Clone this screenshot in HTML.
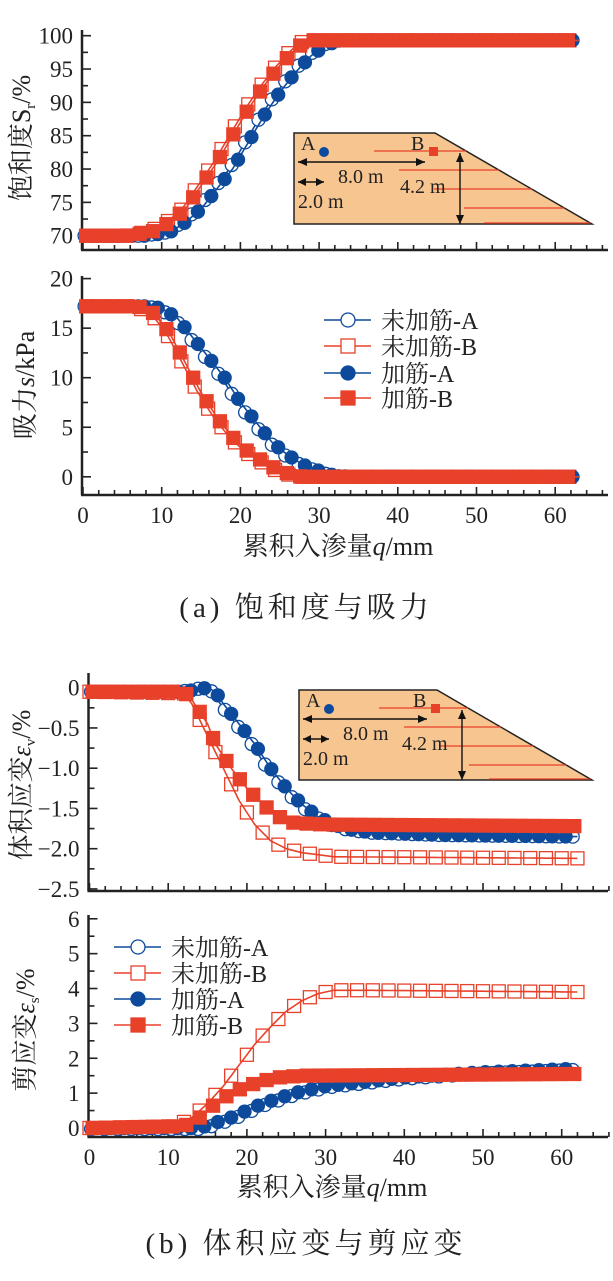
<!DOCTYPE html>
<html><head><meta charset="utf-8">
<style>
html,body{margin:0;padding:0;background:#fff;}
svg{display:block}
text{font-family:"Liberation Serif","Noto Serif CJK SC",serif;}
.cj{font-family:"Liberation Serif","Noto Serif CJK SC","Noto Sans CJK SC",serif;}
</style></head>
<body>
<svg id="s" width="613" height="1281" viewBox="0 0 613 1281" xmlns="http://www.w3.org/2000/svg">
<text x="306" y="617" text-anchor="middle" font-size="29" letter-spacing="4" class="cj" fill="#222">(a) 饱和度与吸力</text>
<text x="306" y="1253" text-anchor="middle" font-size="29" letter-spacing="4" class="cj" fill="#222">(b) 体积应变与剪应变</text>
</svg>
<script>
const S=document.getElementById('s');const NS='http://www.w3.org/2000/svg';
function el(t,a,txt){const e=document.createElementNS(NS,t);for(const k in a)e.setAttribute(k,a[k]);if(txt!==undefined)e.textContent=txt;S.appendChild(e);return e;}
const BL='#0d4a9c',RD='#e8412a';
function interp(pts,q){if(q<=pts[0][0])return pts[0][1];for(let i=1;i<pts.length;i++){if(q<=pts[i][0]){const a=pts[i-1],b=pts[i];return a[1]+(b[1]-a[1])*(q-a[0])/(b[0]-a[0]);}}return pts[pts.length-1][1];}
function panel(P){
 const X=q=>P.x0+q*P.kx, Y=v=>P.y0+(v-P.v0)*P.ky;
 el('line',{x1:P.x0-1,y1:P.ytop,x2:P.x0-1,y2:P.yax,stroke:'#222','stroke-width':2.5});
 el('line',{x1:P.x0-2,y1:P.yax,x2:608,y2:P.yax,stroke:'#222','stroke-width':2.5});
 for(let q=0;q<=66;q+=2){const M=q%10==0;el('line',{x1:X(q),y1:P.yax,x2:X(q),y2:P.yax-(M?8:5),stroke:'#222','stroke-width':1.6});
  if(M&&P.xl)el('text',{x:X(q),y:P.yax+28,'text-anchor':'middle','font-size':23,fill:'#222'},q);}
 const n=Math.round((P.vmax-P.vmin)/P.minor);
 for(let i=0;i<=n;i++){const v=P.vmin+i*P.minor;const M=Math.abs(Math.round(v/P.major)*P.major-v)<1e-6;const y=Y(v);if(y<P.ytop-1||y>P.yax)continue;
  el('line',{x1:P.x0,y1:y,x2:P.x0+(M?8:5),y2:y,stroke:'#222','stroke-width':1.6});
  if(M)el('text',{x:P.x0-10,y:y+8,'text-anchor':'end','font-size':23,fill:'#222'},P.fmt(v));}
 if(P.inset)inset(P.inset);
 for(const s of P.series){
  let d='';for(let q=0;q<=s.end;q+=0.5){d+=(q?'L':'M')+X(q).toFixed(1)+' '+Y(interp(s.p,q)).toFixed(1);}
  el('path',{d:d,fill:'none',stroke:s.c,'stroke-width':1.6});
  for(let q=s.off;q<=s.end+0.01;q+=s.step){const x=X(q),y=Y(interp(s.p,q));
   if(s.m=='c')el('circle',{cx:x,cy:y,r:6.5,fill:s.f?s.c:'#fff',stroke:s.c,'stroke-width':1.3});
   else el('rect',{x:x-6.5,y:y-6.5,width:13,height:13,fill:s.f?s.c:'none',stroke:s.c,'stroke-width':1.3});}
 }
}
function inset(I){
 const {x1,x2,y1,y2,xs}=I,h=y2-y1;
 el('path',{d:`M${x1} ${y1}L${xs} ${y1}L${x2} ${y2}L${x1} ${y2}Z`,fill:'#f7c590',stroke:'#222','stroke-width':1.5});
 const bx=xs-2,by=y1+18;
 const lines=[[x1+80,by],[x1+105,y1+37],[x1+140,y1+56],[x1+170,y1+75],[x1+190,y2-1]];
 lines.forEach(([a,y])=>{const xe=xs+(y-y1)/h*(x2-xs);el('line',{x1:a,y1:y,x2:xe,y2:y,stroke:RD,'stroke-width':1.3});});
 el('rect',{x:bx-4,y:by-4,width:9,height:9,fill:RD});
 el('text',{x:bx-22,y:by-1,'font-size':20,fill:'#222'},'B');
 el('circle',{cx:x1+30,cy:by+1,r:5,fill:BL});
 el('text',{x:x1+7,y:by-1,'font-size':20,fill:'#222'},'A');
 const ar=(xa,ya,xb,yb)=>{el('line',{x1:xa,y1:ya,x2:xb,y2:yb,stroke:'#111','stroke-width':1.4});};
 const yA=by+11;ar(x1+4,yA,bx-8,yA);
 el('path',{d:`M${x1+4} ${yA}l9 -4v8z M${bx-8} ${yA}l-9 -4v8z`,fill:'#111'});
 el('text',{x:x1+44,y:yA+21,'font-size':20,fill:'#222'},'8.0 m');
 const y2a=yA+20;ar(x1+4,y2a,x1+30,y2a);
 el('path',{d:`M${x1+4} ${y2a}l8 -4v8z M${x1+30} ${y2a}l-8 -4v8z`,fill:'#111'});
 el('text',{x:x1+4,y:y2a+26,'font-size':20,fill:'#222'},'2.0 m');
 const vx=xs+25;ar(vx,by+2,vx,y2);
 el('path',{d:`M${vx} ${by+2}l-4 9h8z M${vx} ${y2}l-4 -9h8z`,fill:'#111'});
 el('text',{x:vx-60,y:by+42,'font-size':20,fill:'#222'},'4.2 m');
}
function legend(x,ys){const L=[['c',0,BL,'未加筋-A'],['s',0,RD,'未加筋-B'],['c',1,BL,'加筋-A'],['s',1,RD,'加筋-B']];
 L.forEach((l,i)=>{const y=ys[i];el('line',{x1:x,y1:y,x2:x+47,y2:y,stroke:l[2],'stroke-width':1.6});
  if(l[0]=='c')el('circle',{cx:x+24,cy:y,r:7,fill:l[1]?l[2]:'#fff',stroke:l[2],'stroke-width':1.3});
  else el('rect',{x:x+17,y:y-7,width:14,height:14,fill:l[1]?l[2]:'#fff',stroke:l[2],'stroke-width':1.3});
  el('text',{x:x+57,y:y+9,'font-size':24,fill:'#222',class:'cj'},l[3]);});}
const kx=7.87;
const SrA=[[0,70],[8,70],[11,70.5],[13,72],[15,74],[17,77],[19,80],[21,84],[23,88],[25,91.5],[27,94.5],[29,97],[31,98.7],[33,99.3],[63,99.3]];
const SrB=[[0,70],[6,70],[9,70.7],[11,72],[13,74],[15,77.5],[17,81],[19,85],[21,89],[23,92.5],[25,95.5],[27,98],[28.5,99.3],[63,99.3]];
const SrAo=SrA.map(p=>[p[0]-0.4,p[1]]),SrBo=SrB.map(p=>[p[0]-0.4,p[1]]);
panel({x0:83,kx:kx,y0:235.7,v0:70,ky:-6.667,ytop:30,yax:250,vmin:70,vmax:100,major:5,minor:2.5,fmt:v=>v,xl:false,
 inset:{x1:294,x2:592,y1:133,y2:224,xs:435},
 series:[{p:SrAo,c:BL,m:'c',f:0,off:0.2,step:1.7,end:63},{p:SrBo,c:RD,m:'s',f:0,off:0.6,step:1.7,end:63},{p:SrA,c:BL,m:'c',f:1,off:1,step:1.7,end:63},{p:SrB,c:RD,m:'s',f:1,off:0.4,step:1.7,end:63}]});
const sA=[[0,17.2],[8,17.2],[10,17],[12,16],[14,14],[16,12],[18,10],[20,7.5],[22,5.5],[24,3.5],[26,2.2],[28,1.2],[30,0.6],[32,0.1],[34,0],[63,0]];
const sB=[[0,17.2],[7,17.2],[9,16.5],[11,14.5],[13,11.5],[15,8.5],[17,6],[19,4],[21,2.5],[23,1.5],[25,0.6],[27,0.1],[28,0],[63,0]];
panel({x0:83,kx:kx,y0:476.8,v0:0,ky:-9.91,ytop:276,yax:495,vmin:-2.5,vmax:20,major:5,minor:2.5,fmt:v=>v,xl:true,
 series:[{p:sA.map(p=>[p[0]-0.4,p[1]]),c:BL,m:'c',f:0,off:0.2,step:1.7,end:63},{p:sB.map(p=>[p[0]-0.4,p[1]]),c:RD,m:'s',f:0,off:0.6,step:1.7,end:63},{p:sA,c:BL,m:'c',f:1,off:1,step:1.7,end:63},{p:sB,c:RD,m:'s',f:1,off:0.4,step:1.7,end:63}]});
legend(324,[320,346,373,398]);
const vA=[[0,-0.05],[12,-0.05],[15,0],[16,-0.05],[17,-0.2],[19,-0.45],[21,-0.7],[23,-1.0],[25,-1.25],[27,-1.45],[29,-1.6],[31,-1.7],[33,-1.76],[36,-1.8],[45,-1.83],[62,-1.85]];
const vB=[[0,-0.05],[12,-0.05],[13,-0.15],[15,-0.45],[16,-0.7],[18,-1.0],[20,-1.25],[22,-1.45],[24,-1.6],[26,-1.68],[30,-1.7],[62,-1.72]];
const vBo=[[0,-0.05],[12,-0.07],[13,-0.2],[15,-0.6],[17,-1.0],[19,-1.4],[21,-1.7],[23,-1.9],[25,-2.0],[27,-2.05],[31,-2.1],[62,-2.12]];
panel({x0:89.5,kx:kx,y0:687.7,v0:0,ky:-80.5,ytop:673,yax:891,vmin:-2.5,vmax:0,major:0.5,minor:0.25,fmt:v=>Math.abs(v)<1e-6?'0':'−'+Math.abs(v).toFixed(1),xl:false,
 inset:{x1:299,x2:592,y1:690,y2:780,xs:437},
 series:[{p:vA.map(p=>[p[0]-0.4,p[1]]),c:BL,m:'c',f:0,off:0.2,step:1.7,end:62},{p:vBo,c:RD,m:'s',f:0,off:0,step:2,end:62},{p:vA,c:BL,m:'c',f:1,off:1,step:1.7,end:62},{p:vB,c:RD,m:'s',f:1,off:0.4,step:1.7,end:62.5}]});
const eBo=[[0,0],[11,0.05],[13,0.3],[15,0.7],[17,1.2],[19,1.8],[21,2.4],[23,2.9],[25,3.35],[27,3.65],[29,3.85],[31,3.95],[35,3.95],[62,3.9]];
const eB=[[0,0],[12,0.05],[14,0.3],[16,0.7],[18,1.0],[20,1.2],[22,1.35],[24,1.45],[27,1.5],[62,1.55]];
const eA=[[0,0],[12,0],[14,0],[16,0.15],[18,0.3],[20,0.5],[22,0.7],[24,0.85],[26,1.0],[28,1.1],[30,1.2],[34,1.3],[40,1.45],[50,1.6],[62,1.7]];
panel({x0:89.5,kx:kx,y0:1128,v0:0,ky:-34.87,ytop:915,yax:1137,vmin:0,vmax:6,major:1,minor:0.5,fmt:v=>v,xl:true,
 series:[{p:eA.map(p=>[p[0]+0.4,p[1]-0.03]),c:BL,m:'c',f:0,off:0.2,step:1.7,end:62},{p:eBo,c:RD,m:'s',f:0,off:0,step:2,end:62},{p:eA,c:BL,m:'c',f:1,off:1,step:1.7,end:62},{p:eB,c:RD,m:'s',f:1,off:0.4,step:1.7,end:62.5}]});
legend(114,[947,973,999,1025]);
function yt(x,y,html){const t=el('text',{x:0,y:0,'font-size':26,fill:'#222',class:'cj','text-anchor':'middle',transform:`translate(${x},${y}) rotate(-90)`});t.innerHTML=html;}
yt(30,138,'饱和度S<tspan font-size="15" dy="5">r</tspan><tspan dy="-5">/%</tspan>');
yt(34,385,'吸力<tspan font-style="italic">s</tspan>/kPa');
yt(30,785,'体积应变<tspan font-style="italic">ε</tspan><tspan font-size="15" dy="5">v</tspan><tspan dy="-5">/%</tspan>');
yt(34,1030,'剪应变<tspan font-style="italic">ε</tspan><tspan font-size="15" dy="5">s</tspan><tspan dy="-5">/%</tspan>');
el('text',{x:338,y:555,'font-size':26,fill:'#222',class:'cj','text-anchor':'middle'}).innerHTML='累积入渗量<tspan font-style="italic">q</tspan>/mm';
el('text',{x:332,y:1196,'font-size':26,fill:'#222',class:'cj','text-anchor':'middle'}).innerHTML='累积入渗量<tspan font-style="italic">q</tspan>/mm';
</script>
</body></html>
